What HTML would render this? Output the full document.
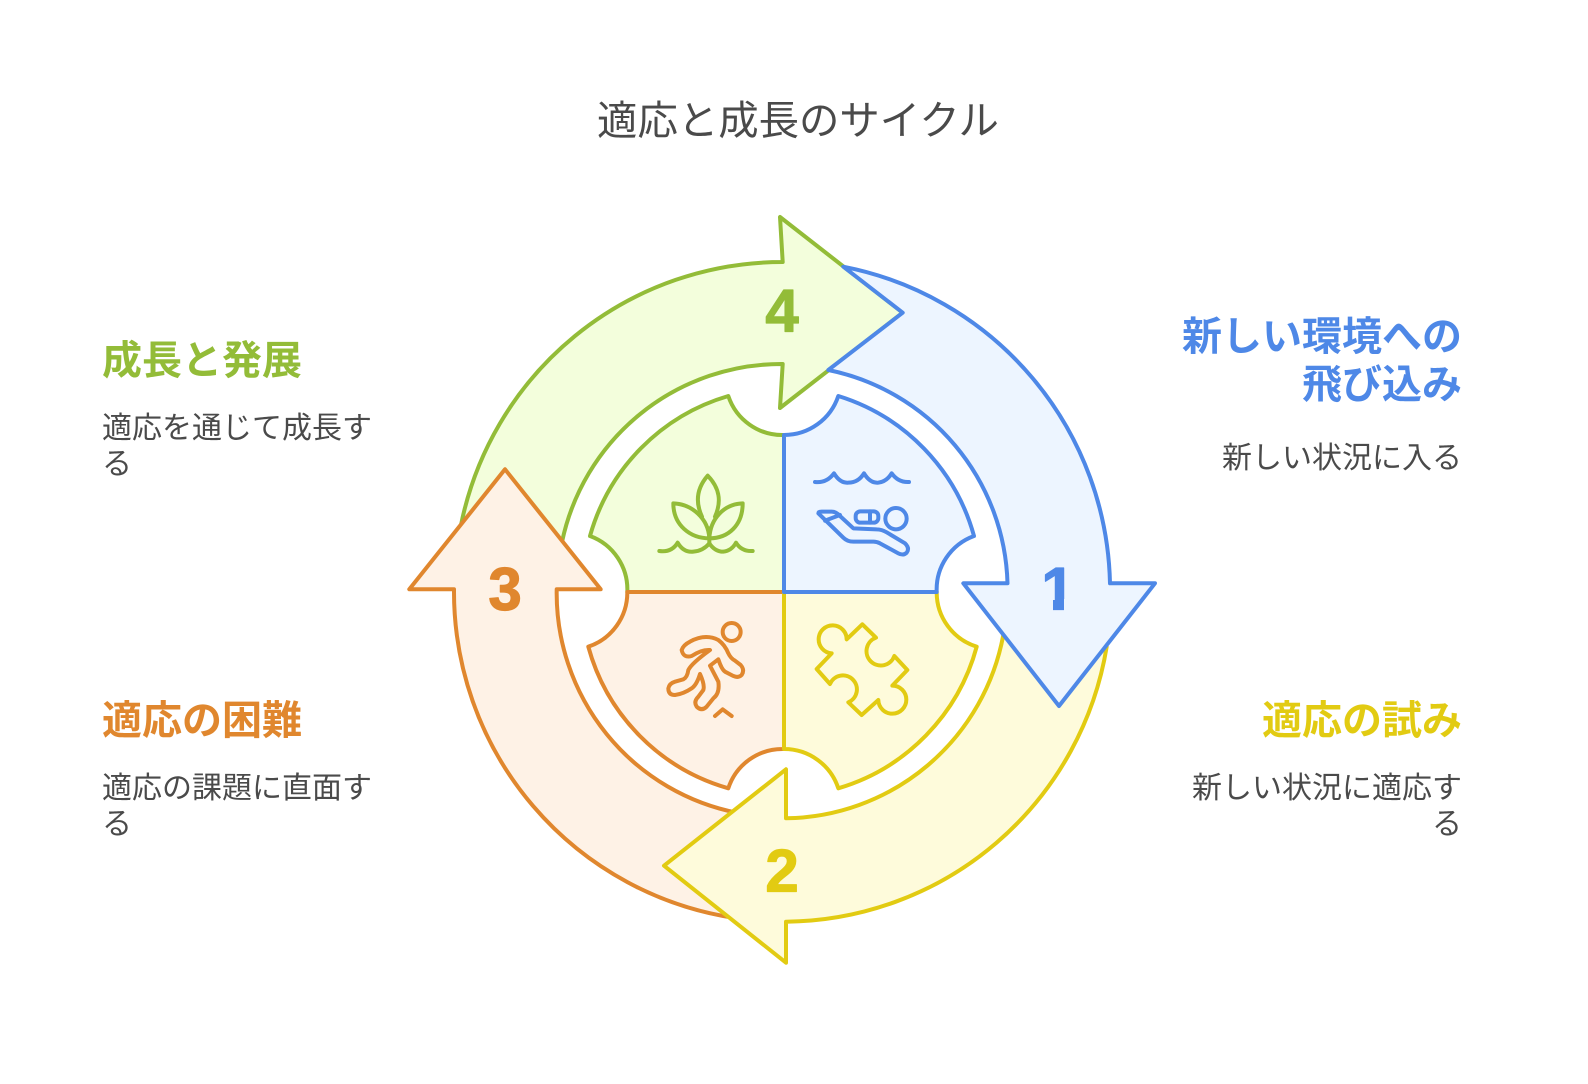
<!DOCTYPE html>
<html><head><meta charset="utf-8"><style>
html,body{margin:0;padding:0;background:#fff}
svg{display:block}
text{font-family:"Liberation Sans","Noto Sans CJK JP",sans-serif}
.h{font-size:40px;font-weight:700}
.b{font-size:30px;fill:#4a4a4a}
.n{font-size:60px;font-weight:700;text-anchor:middle;stroke-width:1.2;stroke-linejoin:round}
.s{stroke-width:4;stroke-linejoin:round;stroke-linecap:round}
.ic{fill:none;stroke-width:12;stroke-linejoin:round;stroke-linecap:round}
</style></head><body>
<svg width="1588" height="1084" viewBox="0 0 1588 1084" xmlns="http://www.w3.org/2000/svg">
<rect width="1588" height="1084" fill="#fff"/>
<text x="798" y="134.5" text-anchor="middle" font-size="40.4" fill="#4a4a4a">適応と成長のサイクル</text>

<!-- green -->
<g class="s" fill="#f3fedc" stroke="#93bc38">
<path d="M782.7 262A328 328 0 0 0 461 525L505 560L562 542A224 224 0 0 1 782.7 364L780 408L902.7 312.7L780 217Z"/>
<path d="M784 592V435A57 57 0 0 1 728.3 396A203 203 0 0 0 590 536A57 57 0 0 1 627.3 592Z"/>
</g>
<!-- orange -->
<g class="s" fill="#fef2e6" stroke="#e0872e">
<path d="M454 589.3A330 330 0 0 0 735 918L738 813A224 224 0 0 1 556.7 589.3H600.7L505 469.3L409.3 589.3Z"/>
<path d="M784 592H627.3A57 57 0 0 1 588.3 646.7A203 203 0 0 0 728.3 788.3A57 57 0 0 1 784 749Z"/>
</g>
<!-- yellow -->
<g class="s" fill="#fefbdb" stroke="#e2cb12">
<path d="M1106.7 646.7A328 328 0 0 1 786 921.7V962.7L664 865.7L786 769.3V818.3A224 224 0 0 0 1003.3 635L1059 660Z"/>
<path d="M784 592H936.7A57 57 0 0 0 976.7 646.7A203 203 0 0 1 838.3 788.3A57 57 0 0 0 784 749Z"/>
</g>
<!-- blue -->
<g class="s" fill="#edf5ff" stroke="#4e88e7">
<path d="M843.3 266.7A330 330 0 0 1 1110 583.3H1155L1059 706L963.3 583.3H1007.5A224 224 0 0 0 828.3 370L902.7 312.7Z"/>
<path d="M784 592V435A57 57 0 0 0 838.3 396A203 203 0 0 1 974 536A57 57 0 0 0 936.7 592Z"/>
</g>

<text class="n" x="782" y="331.5" fill="#93bc38" stroke="#93bc38">4</text>
<text class="n" x="1058" y="609.5" fill="#4e88e7" stroke="#4e88e7">1</text>
<rect x="1038" y="599" width="15" height="13" fill="#edf5ff"/>
<rect x="1064" y="599" width="15" height="13" fill="#edf5ff"/>
<rect x="1053" y="600" width="11" height="10" fill="#4e88e7"/>
<text class="n" x="782" y="891.5" fill="#e2cb12" stroke="#e2cb12">2</text>
<text class="n" x="505" y="610" fill="#e0872e" stroke="#e0872e">3</text>

<!-- swimmer -->
<g transform="translate(760 200) scale(.33333)" class="ic" stroke="#4e88e7">
<path d="M165 846Q200 850 222 820Q240 850 265 848Q295 848 312 820Q330 850 355 848Q380 845 395 820Q415 848 447 846"/>
<circle cx="408" cy="956" r="32"/>
<rect x="287" y="934" width="68" height="34" rx="14"/>
<path d="M330 934V968"/>
<path d="M175 940Q175 935 185 935H215Q228 935 240 948L280 985L350 988Q365 988 380 997L435 1030Q450 1045 440 1058Q430 1068 415 1060L360 1030Q350 1025 340 1025H280Q262 1025 250 1013Z"/>
<path d="M195 962L240 945"/>
</g>
<!-- plant -->
<g transform="translate(390 200) scale(.33333)" class="ic" stroke="#93bc38">
<path d="M808 1053Q845 1058 863 1028Q880 1058 910 1055Q940 1052 958 1030Q975 1055 1000 1055Q1025 1052 1038 1028Q1055 1055 1088 1053"/>
<path d="M958 985V1030"/>
<path d="M850 910C905 912 955 955 958 1015C900 1015 850 975 850 910Z"/>
<path d="M1058 910C1003 912 961 955 958 1015C1016 1015 1058 975 1058 910Z"/>
<path d="M936 950C915 905 920 865 953 827C990 865 995 905 975 950"/>
</g>
<!-- puzzle -->
<g transform="translate(760 570) scale(.33333)" class="ic" stroke="#e2cb12">
<path d="M260 208A42 42 0 1 0 215 250L170 297L210 342A42 42 0 1 1 265 397L305 435L355 390A42 42 0 1 0 397 347L442 300L403 258A43 43 0 1 1 348 203L307 163Z"/>
</g>
<!-- runner -->
<g transform="translate(390 570) scale(.33333)" class="ic" stroke="#e0872e">
<circle cx="1025" cy="186" r="27"/>
<path d="M875 240Q880 225 900 215Q945 190 985 210Q1005 225 1015 250Q1022 265 1035 272L1052 285Q1065 300 1055 315Q1045 325 1030 318L1005 305Q995 298 985 268L960 287L985 335Q990 370 970 385L950 410Q935 425 920 410Q910 395 925 380L940 360Q945 345 930 312Q920 345 905 355Q880 372 855 375Q835 375 835 355Q838 340 855 335L880 328Q892 322 895 300Q905 280 960 240Q935 238 905 258Q880 265 875 240Z"/>
<path d="M975 438L998 418L1025 438"/>
</g>

<!-- labels -->
<text class="h" x="1462" y="350" text-anchor="end" fill="#4e88e7">新しい環境への</text>
<text class="h" x="1462" y="398" text-anchor="end" fill="#4e88e7">飛び込み</text>
<text class="b" x="1462" y="468" text-anchor="end">新しい状況に入る</text>

<text class="h" x="1462" y="734" text-anchor="end" fill="#e2cb12">適応の試み</text>
<text class="b" x="1462" y="798" text-anchor="end">新しい状況に適応す</text>
<text class="b" x="1462" y="834" text-anchor="end">る</text>

<text class="h" x="102" y="374" fill="#93bc38">成長と発展</text>
<text class="b" x="102" y="438">適応を通じて成長す</text>
<text class="b" x="102" y="474">る</text>

<text class="h" x="102" y="734" fill="#e0872e">適応の困難</text>
<text class="b" x="102" y="798">適応の課題に直面す</text>
<text class="b" x="102" y="834">る</text>
</svg>
</body></html>
